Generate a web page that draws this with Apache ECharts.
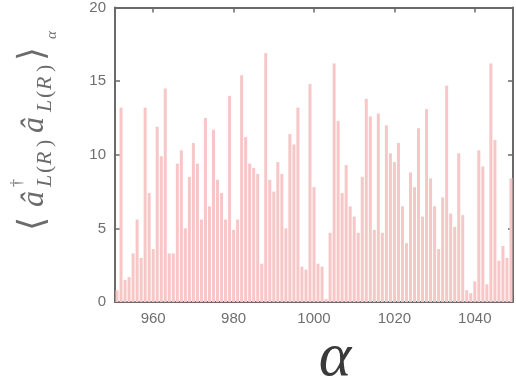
<!DOCTYPE html>
<html><head><meta charset="utf-8">
<script src="https://cdn.jsdelivr.net/npm/echarts@6/dist/echarts.min.js"></script>
<style>html,body{margin:0;padding:0;background:#fff}#c{width:516px;height:381px}</style>
</head><body><div id="c"></div>
<script>
// ---- data ----
const alphas = [951,952,953,954,955,956,957,958,959,960,961,962,963,964,965,966,967,968,969,970,
  971,972,973,974,975,976,977,978,979,980,981,982,983,984,985,986,987,988,989,990,
  991,992,993,994,995,996,997,998,999,1000,1001,1002,1003,1004,1005,1006,1007,1008,1009,1010,
  1011,1012,1013,1014,1015,1016,1017,1018,1019,1020,1021,1022,1023,1024,1025,1026,1027,1028,1029,1030,
  1031,1032,1033,1034,1035,1036,1037,1038,1039,1040,1041,1042,1043,1044,1045,1046,1047,1048,1049];
const occupations = [0.8,13.2,1.5,1.7,3.3,5.6,3.0,13.2,7.4,3.6,11.9,9.9,14.5,3.3,3.3,9.4,10.3,5.0,8.5,10.8,
  9.4,5.6,12.5,6.5,11.7,8.3,7.4,5.6,14.0,4.9,5.6,15.4,11.2,9.4,9.1,8.7,2.6,16.9,8.3,7.5,
  9.5,8.7,5.0,11.4,10.7,13.2,2.4,2.2,14.8,7.8,2.6,2.4,0.2,4.7,16.2,12.3,7.4,9.3,6.5,5.8,
  4.7,8.5,13.8,12.6,4.9,12.8,4.7,12.0,10.1,9.5,10.8,6.5,4.0,8.8,7.8,11.8,5.8,13.1,8.4,6.5,
  3.6,7.1,14.7,6.0,5.1,10.1,5.9,0.8,0.6,1.4,10.3,9.2,1.2,16.2,11.0,2.8,3.8,3.0,8.4];
const xTickLabels = [960, 980, 1000, 1020, 1040];
const yTickLabels = [0, 5, 10, 15, 20];
const xRange = [950.5, 1049.5];
const yRange = [0, 20];

// ---- chart ----
const chart = echarts.init(document.getElementById('c'), null, {renderer: 'canvas'});
const axisColor = '#6a6a6a';
const labelColor = '#6f6f6f';
const titleColor = '#6b6b6b';

function xAxisDef(pos, showLabel) {
  return {
    type: 'value', position: pos, min: xRange[0], max: xRange[1], splitNumber: 5,
    axisLine: {show: true, onZero: false, lineStyle: {color: axisColor, width: 2}},
    axisTick: {show: true, inside: true, length: 5, lineStyle: {color: axisColor, width: 1.5}},
    axisLabel: {show: showLabel, color: labelColor, fontSize: 15, margin: 9, fontFamily: 'Liberation Sans',
      formatter: v => xTickLabels.includes(v) ? String(v) : ''},
    splitLine: {show: false}
  };
}
function yAxisDef(pos, showLabel) {
  return {
    type: 'value', position: pos, min: yRange[0], max: yRange[1], interval: 5,
    axisLine: {show: true, onZero: false, lineStyle: {color: axisColor, width: 2}},
    axisTick: {show: true, inside: true, length: 5, lineStyle: {color: axisColor, width: 1.5}},
    axisLabel: {show: showLabel, color: labelColor, fontSize: 15, margin: 9, fontFamily: 'Liberation Sans',
      formatter: v => yTickLabels.includes(v) ? String(v) : ''},
    splitLine: {show: false}
  };
}

const mathFont = (size, italic) => (italic ? 'italic ' : '') + size + 'px "Liberation Serif", "DejaVu Serif", serif';
function t(str, x, y, size, italic) {
  return {type: 'text', x: x, y: y, silent: true,
    style: {text: str, font: mathFont(size, italic), fill: titleColor, align: 'left', verticalAlign: 'middle'}};
}

const option = {
  animation: false,
  backgroundColor: '#ffffff',
  grid: {left: 115, right: 1, top: 7, bottom: 79, containLabel: false},
  xAxis: [xAxisDef('bottom', true), xAxisDef('top', false)],
  yAxis: [yAxisDef('left', true), yAxisDef('right', false)],
  series: [{
    type: 'bar', xAxisIndex: 0, yAxisIndex: 0, silent: true,
    barWidth: 3,
    itemStyle: {color: '#f7c6c6'},
    data: alphas.map((a, i) => [a, occupations[i]])
  }],
  graphic: [
    {type: 'group', x: 46, y: 231, rotation: Math.PI / 2, silent: true, children: [
      t('\u27E8', 0, -12, 36, false),
      t('\u00E2', 24, -11, 32, true),
      t('\u2020', 44, -28, 16, false),
      t('L', 44, -1, 22, true),
      t('(', 58, -1, 22, false),
      t('R', 66, -1, 22, true),
      t(')', 84, -1, 22, false),
      t('\u00E2', 98, -11, 32, true),
      t('L', 119, -1, 22, true),
      t('(', 133, -1, 22, false),
      t('R', 141, -1, 22, true),
      t(')', 159, -1, 22, false),
      t('\u27E9', 170, -12, 36, false),
      t('\u03B1', 192, 6, 15, true)
    ]},
    {type: 'text', x: 335, y: 359, silent: true,
      style: {text: '\u03B1', font: mathFont(62, true), fill: '#3a3a3a', align: 'center', verticalAlign: 'middle'}}
  ]
};
chart.setOption(option);
</script>
</body></html>
